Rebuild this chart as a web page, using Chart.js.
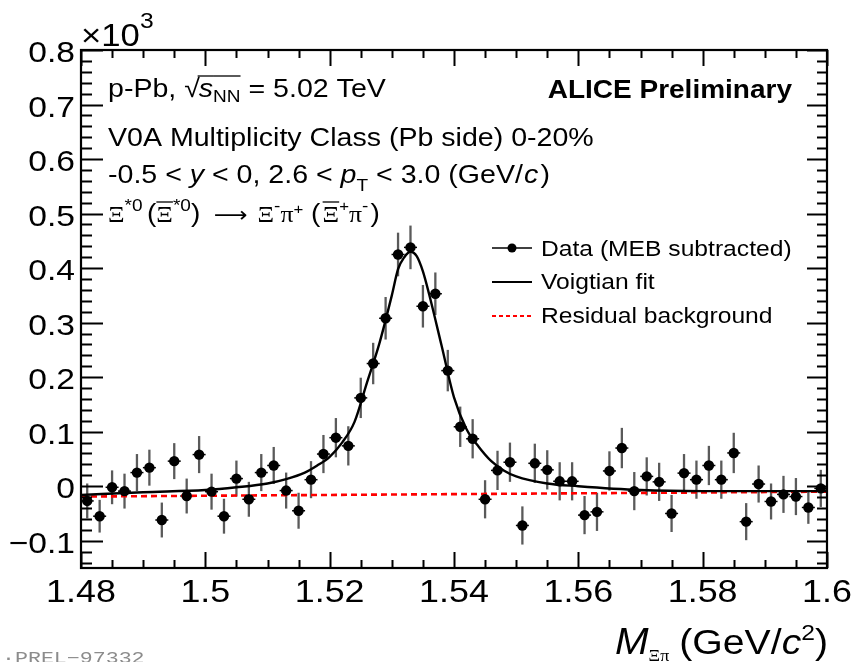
<!DOCTYPE html>
<html>
<head>
<meta charset="utf-8">
<script src="https://cdn.jsdelivr.net/npm/chart.js@4.4.1/dist/chart.umd.min.js"></script>
<style>
html,body{margin:0;padding:0;background:#fff;}
canvas{display:block;}
</style>
</head>
<body>
<canvas id="c" width="854" height="662"></canvas>
<script>
// ---- data (values in units of 10^3) ----
const binCenters = [1.481,1.483,1.485,1.487,1.489,1.491,1.493,1.495,1.497,1.499,
  1.501,1.503,1.505,1.507,1.509,1.511,1.513,1.515,1.517,1.519,
  1.521,1.523,1.525,1.527,1.529,1.531,1.533,1.535,1.537,1.539,
  1.541,1.543,1.545,1.547,1.549,1.551,1.553,1.555,1.557,1.559,
  1.561,1.563,1.565,1.567,1.569,1.571,1.573,1.575,1.577,1.579,
  1.581,1.583,1.585,1.587,1.589,1.591,1.593,1.595,1.597,1.599];
const counts = [-0.027,-0.055,-0.002,-0.009,0.025,0.034,-0.062,0.046,-0.018,0.058,
  -0.010,-0.055,0.014,-0.024,0.025,0.038,-0.008,-0.045,0.012,0.059,
  0.089,0.074,0.162,0.225,0.308,0.425,0.438,0.330,0.353,0.212,
  0.109,0.087,-0.024,0.029,0.044,-0.072,0.042,0.030,0.009,0.009,
  -0.053,-0.047,0.028,0.070,-0.009,0.018,0.008,-0.050,0.024,0.012,
  0.038,0.012,0.061,-0.065,0.004,-0.028,-0.015,-0.019,-0.039,-0.004];
const errors = [0.032,0.030,0.031,0.032,0.034,0.033,0.032,0.033,0.032,0.034,
  0.033,0.032,0.033,0.032,0.034,0.034,0.033,0.033,0.034,0.035,
  0.036,0.036,0.037,0.038,0.039,0.040,0.040,0.039,0.039,0.038,
  0.037,0.036,0.035,0.036,0.036,0.035,0.036,0.036,0.035,0.035,
  0.035,0.035,0.036,0.037,0.035,0.035,0.035,0.034,0.035,0.035,
  0.036,0.035,0.037,0.034,0.034,0.033,0.034,0.034,0.030,0.034];
const fitX = [1.48,1.49,1.50,1.505,1.51,1.513,1.516,1.518,1.520,1.522,1.524,1.526,1.528,1.530,1.531,1.532,1.533,1.534,1.535,1.536,1.538,1.540,1.542,1.544,1.546,1.548,1.550,1.555,1.560,1.570,1.580,1.590,1.600];
const fitY = [-0.016,-0.011,-0.007,-0.002,0.005,0.013,0.025,0.038,0.054,0.080,0.118,0.190,0.262,0.350,0.398,0.420,0.430,0.422,0.394,0.352,0.258,0.163,0.105,0.072,0.046,0.029,0.018,0.005,0.000,-0.007,-0.009,-0.009,-0.009];
const bgX = [1.48, 1.60];
const bgY = [-0.019, -0.010];
const xTickVals = [1.48,1.50,1.52,1.54,1.56,1.58,1.60];
const xTickLabels = ['1.48','1.5','1.52','1.54','1.56','1.58','1.6'];
const yTickVals = [-0.1,0,0.1,0.2,0.3,0.4,0.5,0.6,0.7,0.8];
const yTickLabels = ['\u22120.1','0','0.1','0.2','0.3','0.4','0.5','0.6','0.7','0.8'];
const seriesLabels = ['Data (MEB subtracted)','Voigtian fit','Residual background'];

const SANS = '"Liberation Sans", Arial, Helvetica, sans-serif';
const SERIF = '"Liberation Serif", "DejaVu Serif", serif';
const SX = 1.12; // horizontal text stretch of the reference

function partsWidth(ctx, parts) {
  let w = 0;
  for (const p of parts) { ctx.font = p.f; w += ctx.measureText(p.t).width + (p.dx || 0); }
  return w * SX;
}
function rich(ctx, x0, y0, parts, align) {
  ctx.save();
  let start = x0;
  if (align === 'right') start = x0 - partsWidth(ctx, parts);
  if (align === 'center') start = x0 - partsWidth(ctx, parts) / 2;
  ctx.translate(start, y0);
  ctx.scale(SX, 1);
  ctx.textAlign = 'left';
  ctx.textBaseline = 'alphabetic';
  let x = 0;
  for (const p of parts) {
    ctx.font = p.f;
    const w = ctx.measureText(p.t).width;
    ctx.fillText(p.t, x, p.dy || 0);
    if (p.over) {
      ctx.save(); ctx.lineWidth = 1.3; ctx.strokeStyle = ctx.fillStyle; ctx.beginPath();
      ctx.moveTo(x + (p.over[0] || 0), p.over[1]); ctx.lineTo(x + w, p.over[1]); ctx.stroke(); ctx.restore();
    }
    x += w + (p.dx || 0);
  }
  ctx.restore();
}

const whiteBg = {
  id: 'whiteBg',
  beforeDraw(chart) {
    const ctx = chart.ctx; ctx.save(); ctx.fillStyle = '#fff';
    ctx.fillRect(0, 0, chart.width, chart.height); ctx.restore();
  }
};

const errBars = {
  id: 'errBars',
  beforeDatasetsDraw(chart) {
    const ctx = chart.ctx, xs = chart.scales.x, ys = chart.scales.y, a = chart.chartArea;
    ctx.save();
    ctx.beginPath(); ctx.rect(a.left, a.top, a.right - a.left, a.bottom - a.top); ctx.clip();
    ctx.strokeStyle = '#5a5a5a'; ctx.lineWidth = 2.3;
    for (let i = 0; i < binCenters.length; i++) {
      const px = xs.getPixelForValue(binCenters[i]);
      ctx.beginPath();
      ctx.moveTo(px, ys.getPixelForValue(counts[i] - errors[i]));
      ctx.lineTo(px, ys.getPixelForValue(counts[i] + errors[i]));
      ctx.stroke();
    }
    ctx.strokeStyle = '#000'; ctx.lineWidth = 1.5;
    for (let i = 0; i < binCenters.length; i++) {
      const px = xs.getPixelForValue(binCenters[i]), py = ys.getPixelForValue(counts[i]);
      ctx.beginPath(); ctx.moveTo(px - 6.5, py); ctx.lineTo(px + 6.5, py); ctx.stroke();
    }
    ctx.restore();
  }
};

const frame = {
  id: 'frame',
  afterDraw(chart) {
    const ctx = chart.ctx, xs = chart.scales.x, ys = chart.scales.y, a = chart.chartArea;
    ctx.save();
    ctx.strokeStyle = '#000'; ctx.fillStyle = '#000'; ctx.lineWidth = 2;
    // x ticks (top & bottom, inward)
    for (let k = 0; k <= 24; k++) {
      const v = 1.48 + k * 0.005;
      const major = (k % 4 === 0);
      const px = Math.round(xs.getPixelForValue(v)) + 0.5;
      const L = major ? 16 : 8;
      ctx.beginPath();
      ctx.moveTo(px, a.bottom); ctx.lineTo(px, a.bottom - L);
      ctx.moveTo(px, a.top); ctx.lineTo(px, a.top + L);
      ctx.stroke();
    }
    // y ticks (left & right, inward)
    for (let k = -7; k <= 40; k++) {
      const v = k * 0.02;
      const major = (k % 5 === 0);
      const py = Math.round(ys.getPixelForValue(v)) + 0.5;
      ctx.beginPath();
      ctx.moveTo(a.left, py); ctx.lineTo(a.left + (major ? 22 : 11), py);
      ctx.moveTo(a.right, py); ctx.lineTo(a.right - (major ? 20 : 10), py);
      ctx.stroke();
    }
    ctx.lineWidth = 2.2;
    ctx.strokeRect(a.left, a.top, a.right - a.left, a.bottom - a.top);

    // tick labels from the library scales
    xs.ticks.forEach((t, i) => {
      rich(ctx, xs.getPixelForValue(t.value), 602, [{t: xTickLabels[i], f: '32px ' + SANS}], 'center');
    });
    ys.ticks.forEach((t, i) => {
      rich(ctx, 75, ys.getPixelForValue(t.value) + 12, [{t: yTickLabels[i], f: '30px ' + SANS}], 'right');
    });

    // x10^3
    rich(ctx, 81, 46, [
      {t: '\u00d710', f: '31px ' + SANS},
      {t: '3', f: '22px ' + SANS, dy: -18}
    ]);
    // Header lines
    rich(ctx, 108, 97, [
      {t: 'p-Pb, ', f: '25.5px ' + SANS},
      {t: '\u221a', f: '25.5px ' + SANS, dx: -1},
      {t: 's', f: 'italic 25.5px ' + SANS, over: [-1, -21]},
      {t: 'NN', f: '17px ' + SANS, dy: 5, over: [0, -21]},
      {t: ' = 5.02 TeV', f: '25.5px ' + SANS}
    ]);
    rich(ctx, 108, 146, [{t: 'V0A Multiplicity Class (Pb side) 0-20%', f: '25.5px ' + SANS}]);
    rich(ctx, 108, 183, [
      {t: '-0.5 < ', f: '25.5px ' + SANS},
      {t: 'y', f: 'italic 25.5px ' + SANS},
      {t: ' < 0, 2.6 < ', f: '25.5px ' + SANS},
      {t: 'p', f: 'italic 25.5px ' + SANS},
      {t: 'T', f: '17px ' + SANS, dy: 8},
      {t: ' < 3.0 (GeV/', f: '25.5px ' + SANS, dx: 1},
      {t: 'c', f: 'italic 25.5px ' + SANS, dx: 2},
      {t: ')', f: '25.5px ' + SANS}
    ]);
    rich(ctx, 108, 222, [
      {t: '\u039e', f: '23px ' + SERIF},
      {t: '*0', f: '17px ' + SANS, dy: -11, dx: 4},
      {t: '(', f: '25px ' + SANS},
      {t: '\u039e', f: '23px ' + SERIF, over: [0, -20]},
      {t: '*0', f: '17px ' + SANS, dy: -11},
      {t: ')', f: '25px ' + SANS, dx: 12},
      {t: '\u27f6', f: '21px "DejaVu Sans", ' + SANS, dx: 9},
      {t: '\u039e', f: '23px ' + SERIF},
      {t: '-', f: '17px ' + SANS, dy: -11},
      {t: '\u03c0', f: '23px ' + SERIF},
      {t: '+', f: '15px ' + SANS, dy: -8, dx: 7},
      {t: '(', f: '25px ' + SANS, dx: 2},
      {t: '\u039e', f: '23px ' + SERIF, over: [0, -20]},
      {t: '+', f: '15px ' + SANS, dy: -11},
      {t: '\u03c0', f: '23px ' + SERIF},
      {t: '-', f: '17px ' + SANS, dy: -11, dx: 2},
      {t: ')', f: '25px ' + SANS}
    ]);
    rich(ctx, 792, 98, [{t: 'ALICE Preliminary', f: 'bold 25px ' + SANS}], 'right');

    // legend
    const lx0 = 492, lx1 = 532, tx = 541;
    ctx.lineWidth = 1.5; ctx.strokeStyle = '#000';
    ctx.beginPath(); ctx.moveTo(lx0, 248); ctx.lineTo(lx1, 248); ctx.stroke();
    ctx.beginPath(); ctx.arc((lx0 + lx1) / 2, 248, 4.5, 0, Math.PI * 2); ctx.fill();
    rich(ctx, tx, 256, [{t: seriesLabels[0], f: '22px ' + SANS}]);
    ctx.lineWidth = 2.2;
    ctx.beginPath(); ctx.moveTo(lx0, 282); ctx.lineTo(lx1, 282); ctx.stroke();
    rich(ctx, tx, 289, [{t: seriesLabels[1], f: '22px ' + SANS}]);
    ctx.strokeStyle = '#ff0000'; ctx.lineWidth = 2; ctx.setLineDash([4, 3]);
    ctx.beginPath(); ctx.moveTo(lx0, 316); ctx.lineTo(lx1, 316); ctx.stroke();
    ctx.setLineDash([]);
    rich(ctx, tx, 323, [{t: seriesLabels[2], f: '22px ' + SANS}]);

    // x title
    rich(ctx, 828, 654, [
      {t: 'M', f: 'italic 36px ' + SANS},
      {t: '\u039e\u03c0', f: '16px ' + SERIF, dy: 7, dx: 9},
      {t: '(GeV/', f: '35px ' + SANS},
      {t: 'c', f: 'italic 35px ' + SANS},
      {t: '2', f: '22px ' + SANS, dy: -14},
      {t: ')', f: '35px ' + SANS}
    ], 'right');

    // PREL tag
    ctx.fillStyle = '#8c8c8c';
    ctx.save();
    ctx.translate(2, 663); ctx.scale(1.35, 1);
    ctx.font = '16px "Liberation Mono", "DejaVu Sans Mono", monospace';
    ctx.fillText('\u00b7PREL\u221297332', 0, 0);
    ctx.restore();
    ctx.restore();
  }
};

new Chart(document.getElementById('c'), {
  type: 'scatter',
  data: {
    datasets: [
      {
        label: seriesLabels[0],
        data: binCenters.map((x, i) => ({x: x, y: counts[i]})),
        pointRadius: 5.2, pointHoverRadius: 5.2,
        pointBackgroundColor: '#000', pointBorderColor: '#000', pointBorderWidth: 0,
        showLine: false, order: 1
      },
      {
        label: seriesLabels[1],
        type: 'line',
        data: fitX.map((x, i) => ({x: x, y: fitY[i]})),
        borderColor: '#000', borderWidth: 2.4, pointRadius: 0,
        cubicInterpolationMode: 'monotone', fill: false, order: 0
      },
      {
        label: seriesLabels[2],
        type: 'line',
        data: bgX.map((x, i) => ({x: x, y: bgY[i]})),
        borderColor: '#ff0000', borderWidth: 2.6, borderDash: [6, 4], pointRadius: 0,
        fill: false, order: 2
      }
    ]
  },
  options: {
    responsive: false,
    animation: false,
    devicePixelRatio: 1,
    layout: {padding: {top: 50, right: 27, bottom: 0, left: 0}},
    plugins: {legend: {display: false}, tooltip: {enabled: false}},
    scales: {
      x: {
        type: 'linear', min: 1.48, max: 1.6,
        grid: {display: false, drawTicks: false},
        border: {display: false},
        afterBuildTicks: (s) => { s.ticks = xTickVals.map(v => ({value: v})); },
        afterFit: (s) => { s.height = 94; s.paddingLeft = 0; s.paddingRight = 0; },
        ticks: {display: false, autoSkip: false}
      },
      y: {
        type: 'linear', min: -0.15, max: 0.8,
        grid: {display: false, drawTicks: false},
        border: {display: false},
        afterBuildTicks: (s) => { s.ticks = yTickVals.map(v => ({value: v})); },
        afterFit: (s) => { s.width = 81; s.paddingTop = 0; s.paddingBottom = 0; },
        ticks: {display: false, autoSkip: false}
      }
    }
  },
  plugins: [whiteBg, errBars, frame]
});
</script>
</body>
</html>
